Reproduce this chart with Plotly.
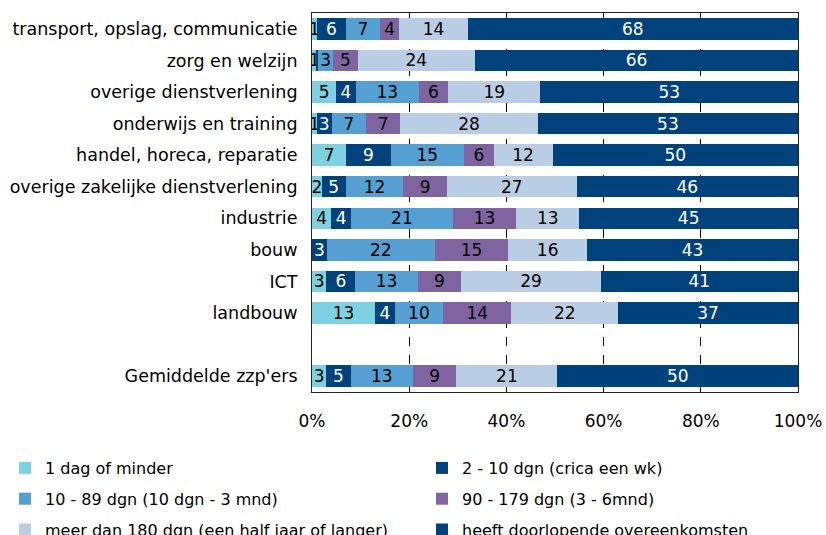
import plotly.graph_objects as go

categories = ["transport, opslag, communicatie", "zorg en welzijn", "overige dienstverlening",
              "onderwijs en training", "handel, horeca, reparatie",
              "overige zakelijke dienstverlening", "industrie", "bouw", "ICT", "landbouw",
              " ", "Gemiddelde zzp'ers"]

series_names = ["1 dag of minder", "2 - 10 dgn (crica een wk)", "10 - 89 dgn (10 dgn - 3 mnd)",
                "90 - 179 dgn (3 - 6mnd)", "meer dan 180 dgn (een half jaar of langer)",
                "heeft doorlopende overeenkomsten"]

s_1dag = [1, 1, 5, 1, 7, 2, 4, 0, 3, 13, None, 3]
s_2_10 = [6, 0.3, 4, 3, 9, 5, 4, 3, 6, 4, None, 5]
s_10_89 = [7, 3, 13, 7, 15, 12, 21, 22, 13, 10, None, 13]
s_90_179 = [4, 5, 6, 7, 6, 9, 13, 15, 9, 14, None, 9]
s_180 = [14, 24, 19, 28, 12, 27, 13, 16, 29, 22, None, 21]
s_doorl = [68, 66, 53, 53, 50, 46, 45, 43, 41, 37, None, 50]

tick_values = [0, 20, 40, 60, 80, 100]
tick_labels = ["0%", "20%", "40%", "60%", "80%", "100%"]

series = [s_1dag, s_2_10, s_10_89, s_90_179, s_180, s_doorl]
colors = ["#7ED1E0", "#00427B", "#559FD3", "#8064A2", "#B9CDE5", "#00427B"]
text_colors = ["black", "white", "black", "black", "black", "white"]
legend_ids = ["legend", "legend2", "legend", "legend2", "legend", "legend2"]

FONT = "DejaVu Sans"

fig = go.Figure()
for i, (name, vals, col, tcol, lg) in enumerate(zip(series_names, series, colors, text_colors, legend_ids)):
    labels = ["" if (v is None or v < 0.5) else str(round(v)) for v in vals]
    fig.add_trace(go.Bar(
        y=categories, x=vals, name=name, orientation="h",
        marker=dict(color=col, line=dict(width=0)),
        text=labels, textposition="inside", insidetextanchor="middle",
        textangle=0, constraintext="none",
        textfont=dict(family=FONT, size=17, color=tcol),
        hoverinfo="skip", legend=lg, legendgroup="g%d" % i,
    ))

# plot area in pixels: x 312..798, y 13..392
PW, PH = 486.0, 379.0
legend_common = dict(
    orientation="v", xref="paper", yref="paper",
    yanchor="top", xanchor="left", y=(392 - 451) / PH,
    font=dict(family=FONT, size=16, color="black"),
    traceorder="grouped", itemwidth=30, tracegroupgap=7,
    bgcolor="rgba(0,0,0,0)",
)

fig.update_layout(
    width=826, height=535,
    barmode="stack", barnorm="percent", bargap=0.32,
    margin=dict(l=312, r=28, t=13, b=143, autoexpand=False),
    paper_bgcolor="white", plot_bgcolor="white",
    font=dict(family=FONT, size=17, color="black"),
    uniformtext=dict(minsize=16, mode="show"),
    showlegend=True,
    legend=dict(x=(5 - 312) / PW, **legend_common),
    legend2=dict(x=(422 - 312) / PW, **legend_common),
)

fig.update_xaxes(
    range=[0, 100], tickvals=tick_values, ticktext=tick_labels,
    ticks="inside", ticklen=5, tickcolor="black",
    showgrid=True, gridcolor="black", griddash="dash", gridwidth=1,
    showline=True, linecolor="#222222", linewidth=1, mirror=True,
    zeroline=False, ticklabelstandoff=14,
    tickfont=dict(family=FONT, size=17, color="black"),
)
fig.update_yaxes(
    categoryorder="array", categoryarray=categories, autorange="reversed",
    showgrid=False, showline=True, linecolor="#222222", linewidth=1, mirror=True,
    ticks="", ticklabelstandoff=10,
    tickfont=dict(family=FONT, size=17.5, color="black"),
)

fig.write_html("out.html", config={"displayModeBar": False},
               post_script="document.body.style.margin='0';document.body.style.overflow='hidden';")
